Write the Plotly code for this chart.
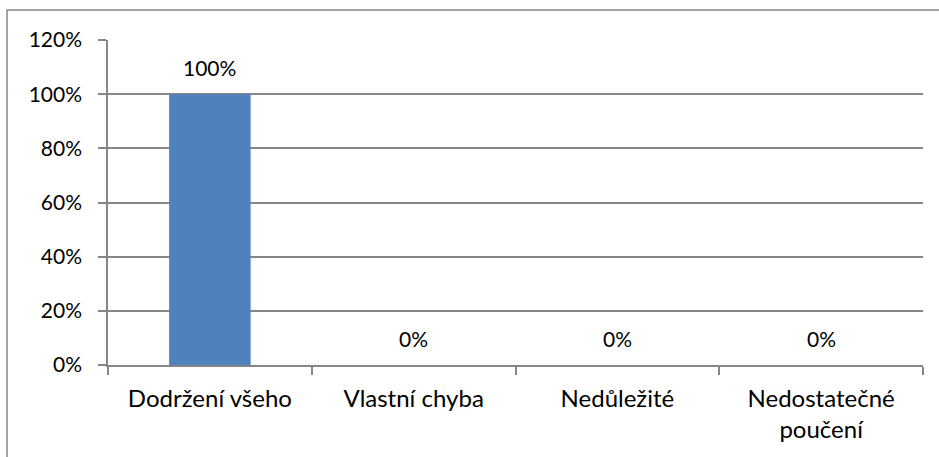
import plotly.graph_objects as go

# data
categories = ["Dodržení všeho", "Vlastní chyba", "Nedůležité", "Nedostatečné<br>poučení"]
values = [1.0, 0.0, 0.0, 0.0]
labels = ["100%", "0%", "0%", "0%"]

FONT = "Lato, Carlito, Calibri, sans-serif"
GRID = "#868686"

fig = go.Figure()
fig.add_trace(go.Bar(
    x=categories,
    y=values,
    marker=dict(color="#4F81BD", line=dict(width=0)),
    width=0.4,
    hoverinfo="x+y",
    showlegend=False,
))

# value labels above each bar
for cat, val, lab in zip(categories, values, labels):
    fig.add_annotation(x=cat, y=val, text=lab, showarrow=False,
                       yanchor="middle", yshift=27,
                       font=dict(family=FONT, size=21, color="black"))

fig.update_layout(
    width=939, height=457,
    margin=dict(l=108, r=16, t=40, b=92),
    paper_bgcolor="white", plot_bgcolor="white",
    font=dict(family=FONT, size=21, color="black"),
    shapes=[dict(type="rect", xref="paper", yref="paper",
                 x0=-101 / 815, x1=1 + 30 / 815, y0=-100 / 325, y1=1 + 30 / 325,
                 line=dict(color=GRID, width=1.5), fillcolor="rgba(0,0,0,0)",
                 layer="below")],
)
fig.update_yaxes(
    range=[0, 1.2], dtick=0.2, tickformat=".0%",
    showgrid=True, gridcolor=GRID, gridwidth=1.5,
    zeroline=False, automargin=False,
    showline=True, linecolor=GRID, linewidth=1.5,
    ticks="outside", ticklen=8, tickcolor=GRID, tickwidth=1.5,
    ticklabelstandoff=12,
)
fig.update_xaxes(
    showgrid=False, showline=True, linecolor=GRID, linewidth=1.5,
    ticks="outside", ticklen=8, tickcolor=GRID, tickwidth=1.5,
    tickson="boundaries", automargin=False,
    tickfont=dict(size=24),
    ticklabelstandoff=11,
)

# page has an 8px default body margin; drop it so the chart sits at the window edge
fig.write_html("out.html", config={"displayModeBar": False},
               post_script="document.body.style.margin='0';")
